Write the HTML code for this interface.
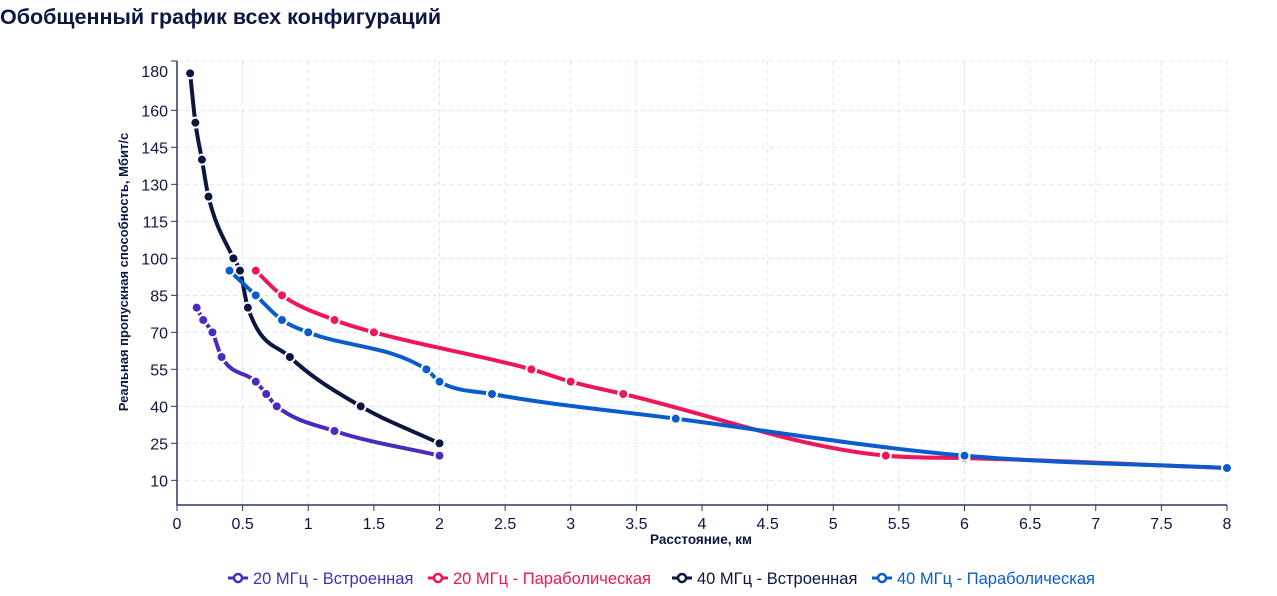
<!DOCTYPE html>
<html><head><meta charset="utf-8">
<style>
body{margin:0;background:#fff;width:1277px;height:591px;overflow:hidden;font-family:"Liberation Sans","DejaVu Sans",sans-serif}
</style></head>
<body>
<svg id="chart" width="1277" height="591" xmlns="http://www.w3.org/2000/svg" font-family="Liberation Sans, DejaVu Sans, sans-serif">
<text x="0" y="24" font-size="21.5" font-weight="bold" fill="#0d1640">Обобщенный график всех конфигураций</text>
<g id="grid"></g>
<g id="axes"></g>
<g id="series"></g>
<g id="legend"></g>
</svg>
<script>
const xTicks=[0,0.5,1,1.5,2,2.5,3,3.5,4,4.5,5,5.5,6,6.5,7,7.5,8];
const yTicks=[10,25,40,55,70,85,100,115,130,145,160,180];
const names=["20 МГц - Встроенная","20 МГц - Параболическая","40 МГц - Встроенная","40 МГц - Параболическая"];
const colors=["#4a2bbd","#f0145a","#0d1640","#0a5ccc"];
const x20e=[0.15,0.2,0.27,0.34,0.6,0.68,0.76,1.2,2];
const y20e=[80,75,70,60,50,45,40,30,20];
const x20p=[0.6,0.8,1.2,1.5,2.7,3,3.4,5.4,6,8];
const y20p=[95,85,75,70,55,50,45,20,19,15];
const x40e=[0.1,0.14,0.19,0.24,0.43,0.48,0.54,0.86,1.4,2];
const y40e=[175,155,140,125,100,95,80,60,40,25];
const x40p=[0.4,0.6,0.8,1,1.9,2,2.4,3.8,6,8];
const y40p=[95,85,75,70,55,50,45,35,20,15];
const seriesX=[x20e,x20p,x40e,x40p];
const seriesY=[y20e,y20p,y40e,y40p];
const NS="http://www.w3.org/2000/svg";
const X0=177,X1=1227,YB=505,YT=61;
const sx=v=>X0+(X1-X0)*v/8;
const sy=v=>YB-(YB-YT)*v/180;
function mk(tag,attrs,parent){const e=document.createElementNS(NS,tag);for(const k in attrs)e.setAttribute(k,attrs[k]);parent.appendChild(e);return e;}
const grid=document.getElementById('grid'),axes=document.getElementById('axes'),ser=document.getElementById('series'),leg=document.getElementById('legend');
xTicks.forEach(t=>{
 if(t>0){const g=mk('line',{x1:sx(t),x2:sx(t),y1:YT,y2:YB,stroke:'#d6e6fa','stroke-dasharray':'4 4'},grid);
 
 }
 const tk=mk('line',{x1:sx(t),x2:sx(t),y1:YB,y2:YB+6,stroke:'#2a3a5a'},axes);
 
 
 const tx=mk('text',{x:sx(t),y:YB+24,'text-anchor':'middle','font-size':16,fill:'#0d1640'},axes);tx.textContent=t;
 
 
});
yTicks.forEach(t=>{
 const y=sy(t);
 const g=mk('line',{x1:X0,x2:X1,y1:y,y2:y,stroke:'#d6e6fa','stroke-dasharray':'4 4'},grid);
 
 
 const tk=mk('line',{x1:X0-6,x2:X0,y1:y,y2:y,stroke:'#2a3a5a'},axes);
 
 
 const ly=Math.max(y+6,77);
 const tx=mk('text',{x:X0-9,y:ly,'text-anchor':'end','font-size':16,fill:'#0d1640'},axes);tx.textContent=t;
 
 
});
const ax=mk('path',{d:`M${X0},${YT}V${YB}H${X1}`,fill:'none',stroke:'#2a3a5a','stroke-width':1.5},axes);


const xt=mk('text',{x:(X0+X1)/2-1,y:544,'text-anchor':'middle','font-size':13.5,'font-weight':'bold',fill:'#0d1640'},axes);xt.textContent='Расстояние, км';


const yt=mk('text',{x:0,y:0,transform:'translate(128,272) rotate(-90)','text-anchor':'middle','font-size':13,'font-weight':'bold',fill:'#0d1640'},axes);yt.textContent='Реальная пропускная способность, Мбит/с';


function monotone(px,py){
 const n=px.length;if(n<2)return '';
 const d=[],m=[];
 for(let i=0;i<n-1;i++)d.push((py[i+1]-py[i])/(px[i+1]-px[i]));
 m[0]=d[0];m[n-1]=d[n-2];
 for(let i=1;i<n-1;i++){m[i]=(d[i-1]*d[i]<=0)?0:(d[i-1]+d[i])/2;}
 for(let i=0;i<n-1;i++){if(d[i]===0){m[i]=m[i+1]=0;continue;}const a=m[i]/d[i],b=m[i+1]/d[i],s=a*a+b*b;if(s>9){const t=3/Math.sqrt(s);m[i]=t*a*d[i];m[i+1]=t*b*d[i];}}
 let p=`M${px[0]},${py[0]}`;
 for(let i=0;i<n-1;i++){const h=(px[i+1]-px[i])/3;p+=`C${px[i]+h},${py[i]+m[i]*h} ${px[i+1]-h},${py[i+1]-m[i+1]*h} ${px[i+1]},${py[i+1]}`;}
 return p;
}
seriesX.forEach((xs,k)=>{
 const g=mk('g',{},ser);
 
 
 const px=xs.map(sx),py=seriesY[k].map(sy);
 const ln=mk('path',{d:monotone(px,py),fill:'none',stroke:colors[k],'stroke-width':4,'stroke-linecap':'round'},g);
 
 
 px.forEach((x,i)=>{
  const c=mk('circle',{cx:x,cy:py[i],r:5,fill:colors[k],stroke:'#fff','stroke-width':2},g);
  
  
 });
});
const legX=[228,428,672,872];
names.forEach((nm,k)=>{
 const g=mk('g',{},leg);
 
 
 const x=legX[k],y=578;
 mk('line',{x1:x,x2:x+20,y1:y,y2:y,stroke:colors[k],'stroke-width':3},g);
 mk('circle',{cx:x+10,cy:y,r:4,fill:'#fff',stroke:colors[k],'stroke-width':2.5},g);
 const t=mk('text',{x:x+25,y:y+6,'font-size':16.5,fill:colors[k]},g);t.textContent=nm;
});
</script>
</body></html>
